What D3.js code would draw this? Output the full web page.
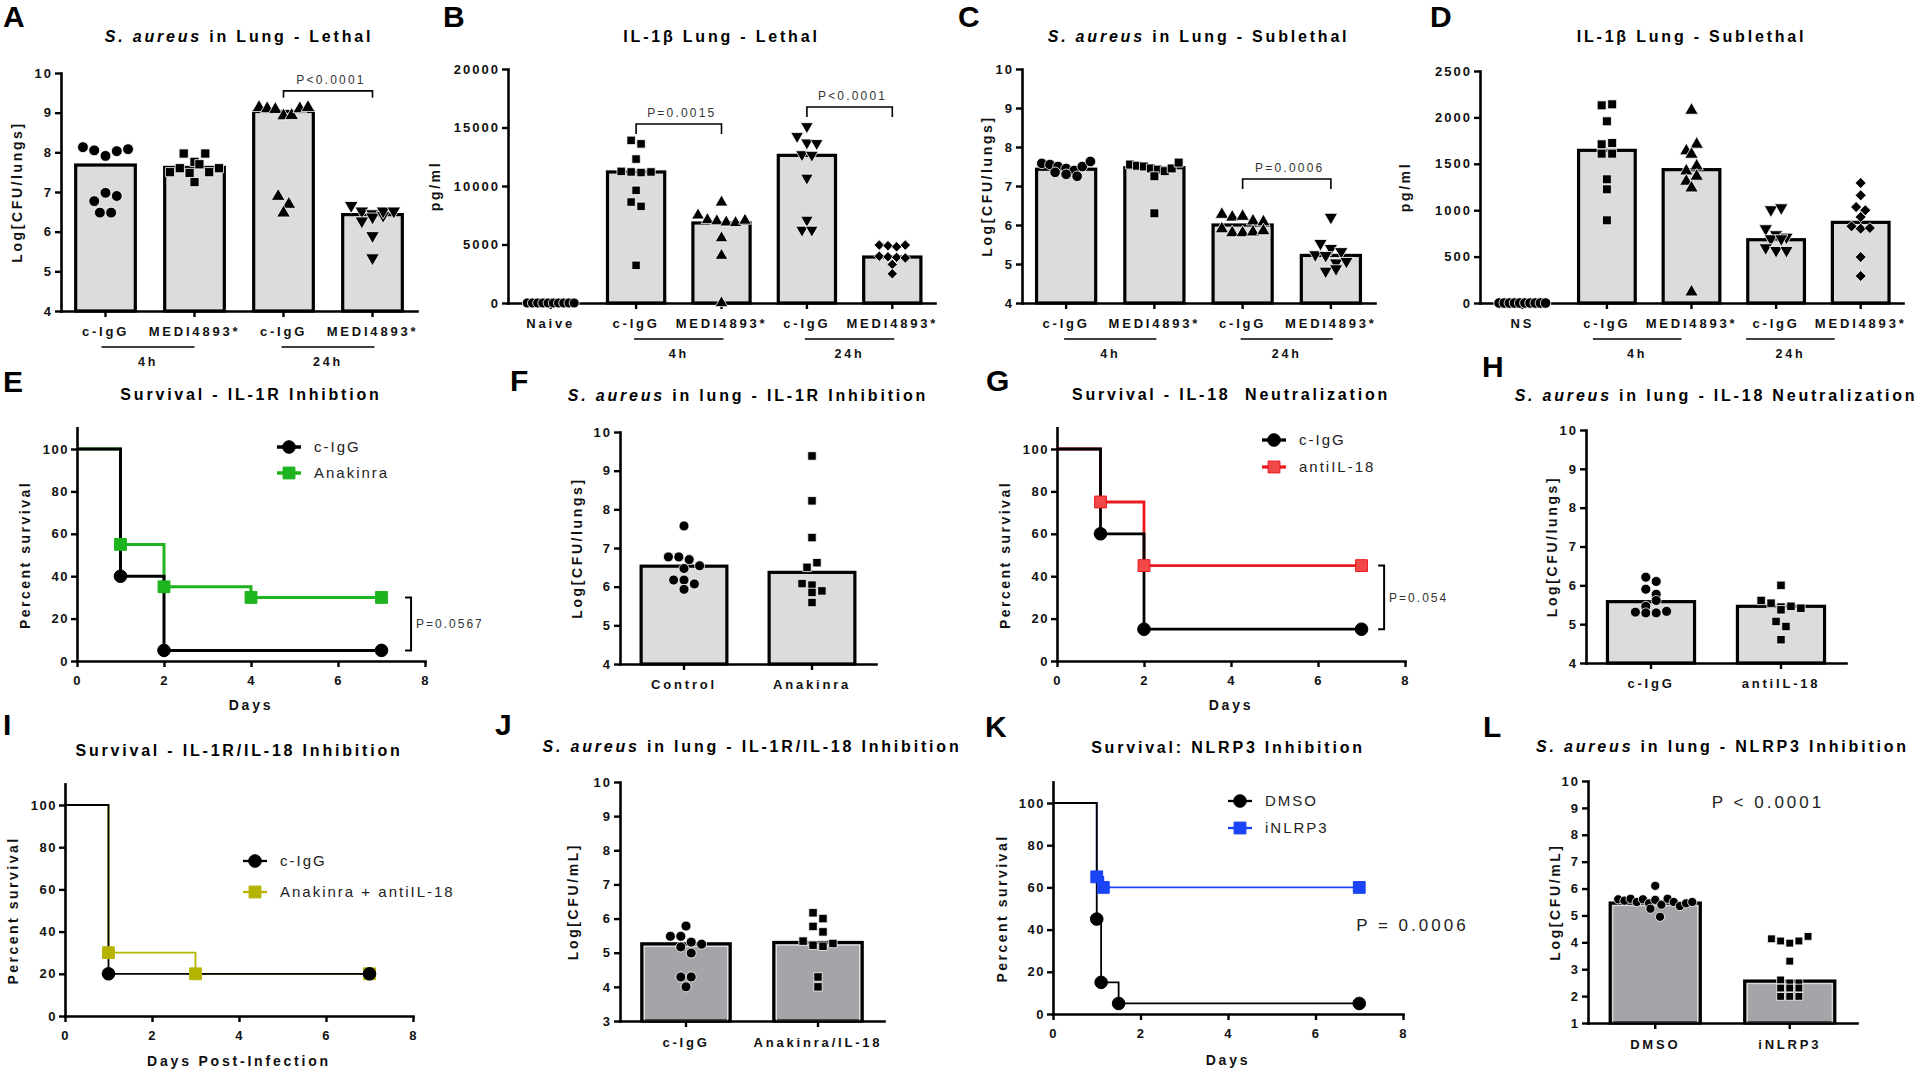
<!DOCTYPE html>
<html>
<head>
<meta charset="utf-8">
<script src="https://cdn.jsdelivr.net/npm/d3@7"></script>
<style>
  body { margin:0; background:#fff; }
  svg text { font-family: "Liberation Sans", Arial, sans-serif; white-space: pre; }
</style>
</head>
<body>
<svg id="fig" width="1920" height="1070"></svg>
<script>
// ---------- data ----------
// A: S. aureus in lung, lethal
const aCats = ["c-IgG", "MEDI4893*", "c-IgG", "MEDI4893*"];
const aBars = [7.68, 7.62, 9.03, 6.43];
const aPoints = [
  [8.13, 8.05, 7.91, 8.03, 8.08, 6.77, 6.98, 6.9, 6.48, 6.48],
  [7.97, 7.76, 7.5, 7.25, 7.6, 7.48, 7.7, 7.5, 7.97, 7.6],
  [9.13, 9.1, 9.08, 8.92, 8.93, 9.1, 9.13, 6.89, 6.69, 6.47],
  [6.66, 6.52, 6.45, 6.27, 6.37, 6.41, 6.52, 6.52, 5.9, 5.34]
];
// B: IL-1b lung, lethal
const bCats = ["Naive", "c-IgG", "MEDI4893*", "c-IgG", "MEDI4893*"];
const bBars = [0, 11200, 6840, 12620, 3930];
const bPoints = [
  [0, 0, 0, 0, 0, 0, 0, 0, 0, 0],
  [13900, 13600, 12300, 11250, 11200, 11150, 11200, 9630, 8630, 8260, 3220],
  [8600, 7500, 7100, 7000, 6900, 6850, 7050, 5550, 4050, 0],
  [15100, 14250, 13700, 13650, 12700, 12650, 10700, 7100, 6250, 6250],
  [4950, 4900, 4800, 4950, 4000, 3950, 3900, 3300, 2500, 3850]
];
// C: S. aureus in lung, sublethal
const cCats = ["c-IgG", "MEDI4893*", "c-IgG", "MEDI4893*"];
const cBars = [7.43, 7.47, 6.0, 5.22];
const cPoints = [
  [7.58, 7.55, 7.5, 7.45, 7.4, 7.35, 7.3, 7.25, 7.5, 7.63],
  [7.55, 7.52, 7.5, 7.45, 7.42, 7.38, 7.45, 7.25, 7.6, 6.3],
  [6.27, 6.2, 6.22, 6.1, 6.08, 5.9, 5.8, 5.8, 5.82, 5.85],
  [6.2, 5.53, 5.4, 5.32, 5.24, 5.22, 5.03, 4.82, 4.88, 5.07]
];
// D: IL-1b lung, sublethal
const dCats = ["NS", "c-IgG", "MEDI4893*", "c-IgG", "MEDI4893*"];
const dBars = [0, 1645, 1437, 682, 869];
const dPoints = [
  [0, 0, 0, 0, 0, 0, 0, 0, 0, 0],
  [2130, 2141, 1958, 1710, 1724, 1609, 1609, 1333, 1225, 891],
  [2076, 1638, 1710, 1602, 1422, 1476, 1311, 1365, 1239, 118],
  [1006, 1027, 801, 737, 693, 711, 693, 596, 567, 567],
  [1293, 1160, 1034, 999, 927, 826, 801, 808, 496, 291]
];
// F: IL-1R inhibition CFU
const fCats = ["Control", "Anakinra"];
const fBars = [6.53, 6.37];
const fPoints = [
  [7.57, 6.77, 6.77, 6.7, 6.54, 6.47, 6.17, 6.17, 6.07, 5.93],
  [9.38, 8.22, 7.27, 6.5, 6.62, 6.08, 6.04, 5.89, 5.85, 5.59]
];
// H: IL-18 neutralization CFU
const hCats = ["c-IgG", "antiIL-18"];
const hBars = [5.58, 5.46];
const hPoints = [
  [6.21, 5.9, 6.1, 5.77, 5.46, 5.61, 5.31, 5.29, 5.29, 5.33],
  [6.0, 5.61, 5.54, 5.44, 5.37, 5.46, 5.41, 5.07, 4.94, 4.6]
];
// J: IL-1R/IL-18 inhibition CFU
const jCats = ["c-IgG", "Anakinra/IL-18"];
const jBars = [5.26, 5.3];
const jPoints = [
  [5.78, 5.48, 5.48, 5.31, 5.25, 5.17, 4.99, 4.29, 4.29, 4.0],
  [6.17, 6.0, 5.77, 5.61, 5.34, 5.22, 5.19, 5.27, 4.29, 4.0]
];
// L: NLRP3 inhibition CFU
const lCats = ["DMSO", "iNLRP3"];
const lBars = [5.46, 2.56];
const lPoints = [
  [5.6, 5.55, 5.62, 5.5, 5.6, 5.45, 5.58, 5.4, 5.62, 5.5, 5.35, 5.45, 5.25, 5.5, 6.1, 4.95],
  [4.13, 4.05, 3.97, 4.05, 4.22, 3.3, 2.6, 2.49, 2.49, 2.3, 2.3, 2.3, 1.99, 1.99, 1.99]
];
// survival curves (day, percent)
const eCtrlT = [0, 1, 2, 7],      eCtrlS = [100, 40, 5, 5];
const eAnakT = [0, 1, 2, 4, 7],   eAnakS = [100, 55, 35, 30, 30];
const gCtrlT = [0, 1, 2, 7],      gCtrlS = [100, 60, 15, 15];
const gAntiT = [0, 1, 2, 7],      gAntiS = [100, 75, 45, 45];
const iCtrlT = [0, 1, 7],         iCtrlS = [100, 20, 20];
const iComboT = [0, 1, 3, 7],     iComboS = [100, 30, 20, 20];
const kDmsoT = [0, 1, 1.1, 1.5, 7], kDmsoS = [100, 45, 15, 5, 5];
const kInhT = [0, 1, 1.15, 7],    kInhS = [100, 65, 60, 60];

const cfuTicks = [4, 5, 6, 7, 8, 9, 10];

// ---------- helpers ----------
const svg = d3.select("#fig");
svg.append("rect").attr("width", 1920).attr("height", 1070).attr("fill", "#fff");

function addText(g, x, y, s, o = {}) {
  const t = g.append("text").attr("x", x).attr("y", y)
    .attr("font-size", o.size || 13)
    .attr("font-weight", o.weight || "bold")
    .attr("letter-spacing", o.ls === undefined ? 2 : o.ls)
    .attr("text-anchor", o.anchor || "middle")
    .attr("fill", o.fill || "#111");
  if (o.rotate) t.attr("transform", `rotate(-90 ${x} ${y})`);
  if (o.dy) t.attr("dy", o.dy);
  if (Array.isArray(s)) s.forEach(p => t.append("tspan").attr("font-style", p[1] ? "italic" : "normal").text(p[0]));
  else t.text(s);
  return t;
}

const SYM = { circle: d3.symbolCircle, square: d3.symbolSquare, tri: d3.symbolTriangle, itri: d3.symbolTriangle, diamond: d3.symbolSquare };
const SIZE = { circle: 92, square: 84, tri: 82, itri: 82, diamond: 64 };
const ROT = { itri: 180, diamond: 45 };
function marker(shape, size) { return d3.symbol().type(SYM[shape]).size(size)(); }

// graphpad-like scatter: rows of overlapping points spread sideways
function layoutRow(vals, y, cx, diam, maxW) {
  const items = vals.map((v, i) => ({ v, i, py: y(v) }));
  const sorted = items.slice().sort((a, b) => a.py - b.py);
  const rows = [];
  sorted.forEach(it => {
    const r = rows[rows.length - 1];
    if (r && it.py - r[0].py < diam * 0.9) r.push(it); else rows.push([it]);
  });
  rows.forEach(r => {
    r.sort((a, b) => a.i - b.i);
    const n = r.length;
    const sp = n > 1 ? Math.min(diam * 1.05, maxW / (n - 1)) : 0;
    r.forEach((it, k) => it.px = cx + (k - (n - 1) / 2) * sp);
  });
  return items;
}

function styleAxis(a, size, ls) {
  a.select(".domain").attr("stroke", "#000").attr("stroke-width", 2.6).attr("stroke-linecap", "square");
  a.selectAll(".tick line").attr("stroke", "#000").attr("stroke-width", 2.4);
  a.selectAll(".tick text").attr("font-family", '"Liberation Sans", Arial, sans-serif')
    .attr("font-size", size || 13).attr("font-weight", "bold").attr("letter-spacing", ls || 2).attr("fill", "#111");
}

function panelLetter(x, y, s) { addText(svg, x, y, s, { size: 30, ls: 0, anchor: "start", fill: "#000" }); }

function barPanel(c) {
  const g = svg.append("g");
  const x = d3.scaleBand().domain(d3.range(c.cats.length)).range([c.x0, c.x1]);
  const y = d3.scaleLinear().domain(c.domain).range([c.yBot, c.yTop]);
  const step = x.bandwidth(), bw = step * 0.67, base = c.domain[0];
  const mid = i => x(i) + step / 2;

  const bars = c.bars.map((v, i) => ({ v, i })).filter(d => d.v > base);
  g.selectAll("rect.bar").data(bars).join("rect")
    .attr("x", d => mid(d.i) - bw / 2).attr("width", bw)
    .attr("y", d => y(d.v)).attr("height", d => y(base) - y(d.v))
    .attr("fill", c.fill || "#dcdcdc").attr("stroke", "#000").attr("stroke-width", 3.2);
  if (c.inner) {
    g.selectAll("rect.inner").data(bars).join("rect")
      .attr("x", d => mid(d.i) - bw / 2 + 2.6).attr("width", bw - 5.2)
      .attr("y", d => y(d.v) + 2.6).attr("height", d => y(base) - y(d.v) - 2.6)
      .attr("fill", "none").attr("stroke", "#e6e6e6").attr("stroke-width", 1);
  }

  const ya = g.append("g").attr("transform", `translate(${c.x0},0)`)
    .call(d3.axisLeft(y).tickValues(c.ticks).tickFormat(d3.format("d")).tickSize(6).tickSizeOuter(0));
  styleAxis(ya, 13, 2);
  ya.selectAll(".tick text").attr("x", -8);
  const xa = g.append("g").attr("transform", `translate(0,${c.yBot})`)
    .call(d3.axisBottom(x).tickFormat(i => c.cats[i]).tickSize(6).tickSizeOuter(0));
  styleAxis(xa, 13, 2.8);
  xa.selectAll(".tick text").attr("y", c.labDy || 16);

  c.points.forEach((vals, i) => {
    const shape = c.shapes[i];
    const sz = SIZE[shape] * (c.ms || 1);
    const diam = Math.sqrt(sz) * 1.12;
    const pts = layoutRow(vals, y, mid(i), diam, step * 0.55);
    g.append("g").selectAll("path").data(pts).join("path")
      .attr("d", marker(shape, sz))
      .attr("transform", d => `translate(${d.px},${d.py}) rotate(${ROT[shape] || 0})`)
      .attr("fill", "#000").attr("stroke", "#fff").attr("stroke-width", 0.8);
  });

  addText(g, (c.x0 + c.x1) / 2, c.titleY, c.title, { size: 16, ls: 2.8, fill: "#000" });
  addText(g, c.ylabX, (c.yTop + c.yBot) / 2, c.ylabel, { size: 14, ls: 2.6, rotate: true, dy: "0.35em" });

  (c.groups || []).forEach(gr => {
    const xa0 = mid(gr.a) + (gr.shift || 0) - 2, xb = mid(gr.b) + (gr.shift || 0) + 2;
    g.append("line").attr("x1", xa0).attr("x2", xb).attr("y1", c.yBot + 36).attr("y2", c.yBot + 36)
      .attr("stroke", "#000").attr("stroke-width", 1.6);
    addText(g, (xa0 + xb) / 2, c.yBot + 55, gr.label, { size: 12.5, ls: 2.8 });
  });

  (c.brackets || []).forEach(b => {
    const yy = y(b.v), xa0 = mid(b.a), xb = mid(b.b);
    g.append("path").attr("d", `M${xa0},${yy + b.drop}V${yy}H${xb}V${yy + b.drop}`)
      .attr("fill", "none").attr("stroke", "#000").attr("stroke-width", 1.6);
    addText(g, (xa0 + xb) / 2 + 3, yy - 7, b.label, { size: 12, weight: "normal", ls: 2.2, fill: "#333" });
  });
  if (c.pText) addText(g, c.pText.x, y(c.pText.v), c.pText.label, { size: 17, weight: "normal", ls: 3, fill: "#222" });
}

function survPanel(c) {
  const g = svg.append("g");
  const x = d3.scaleLinear().domain([0, 8]).range([c.x0, c.x1]);
  const y = d3.scaleLinear().domain([0, 110]).range([c.y0, c.y0 - 1.1 * (c.y0 - c.y100)]);
  const line = d3.line().x(d => x(d[0])).y(d => y(d[1])).curve(d3.curveStepAfter);

  const ya = g.append("g").attr("transform", `translate(${c.x0},0)`)
    .call(d3.axisLeft(y).tickValues([0, 20, 40, 60, 80, 100]).tickSize(6).tickSizeOuter(0));
  styleAxis(ya, 13, 1.5);
  ya.selectAll(".tick text").attr("x", -8);
  const xa = g.append("g").attr("transform", `translate(0,${c.y0})`)
    .call(d3.axisBottom(x).tickValues([0, 2, 4, 6, 8]).tickSize(6).tickSizeOuter(0));
  styleAxis(xa, 13, 1.5);
  xa.selectAll(".tick text").attr("y", 15);

  const ser = c.series.slice().reverse();
  ser.forEach(s => g.append("path").attr("d", line(d3.zip(s.t, s.s)))
    .attr("fill", "none").attr("stroke", s.color).attr("stroke-width", c.lw));
  ser.forEach(s => {
    const pts = d3.zip(s.t, s.s).slice(1);
    g.append("g").selectAll("path").data(pts).join("path")
      .attr("d", marker(s.shape, s.shape === "circle" ? 125 : 140))
      .attr("transform", d => `translate(${x(d[0])},${y(d[1])})`)
      .attr("fill", s.fill || s.color).attr("stroke", s.color).attr("stroke-width", 1);
  });

  c.series.forEach((s, i) => {
    const ly = c.leg.y + i * c.leg.dy;
    g.append("line").attr("x1", c.leg.x).attr("x2", c.leg.x + 24).attr("y1", ly).attr("y2", ly)
      .attr("stroke", s.color).attr("stroke-width", c.lw + 0.5);
    g.append("path").attr("d", marker(s.shape, s.shape === "circle" ? 125 : 140))
      .attr("transform", `translate(${c.leg.x + 12},${ly})`)
      .attr("fill", s.fill || s.color).attr("stroke", s.color);
    addText(g, c.leg.x + 37, ly, s.name, { size: 15, weight: "normal", ls: 2, anchor: "start", dy: "0.36em", fill: "#222" });
  });

  addText(g, (c.x0 + c.x1) / 2, c.titleY, c.title, { size: 16, ls: 2.8, fill: "#000" });
  addText(g, (c.x0 + c.x1) / 2, c.xlabY, c.xlabel, { size: 14, ls: 2.8 });
  addText(g, c.ylabX, (c.y0 + c.y100) / 2, "Percent survival", { size: 14, ls: 2.5, rotate: true, dy: "0.35em" });

  if (c.bracket) {
    const b = c.bracket, bx = x(b.x);
    g.append("path").attr("d", `M${bx - 6},${y(b.a)}H${bx}V${y(b.b)}H${bx - 6}`)
      .attr("fill", "none").attr("stroke", "#000").attr("stroke-width", 2);
    addText(g, bx + 5, (y(b.a) + y(b.b)) / 2, b.label, { size: 12, weight: "normal", ls: 2, anchor: "start", dy: "0.35em", fill: "#333" });
  }
  if (c.pText) addText(g, x(c.pText.x), y(c.pText.v), c.pText.label, { size: 17, weight: "normal", ls: 3, anchor: "start", dy: "0.35em", fill: "#222" });
}

// ---------- panels ----------
barPanel({ cats: aCats, bars: aBars, points: aPoints, shapes: ["circle", "square", "tri", "itri"],
  domain: [4, 10], ticks: cfuTicks, x0: 61, x1: 417, yTop: 73, yBot: 311, ms: 1,
  title: [["S. aureus", 1], [" in Lung - Lethal", 0]], titleY: 42, ylabel: "Log[CFU/lungs]", ylabX: 17,
  groups: [{ a: 0, b: 1, label: "4h", shift: -2 }, { a: 2, b: 3, label: "24h" }],
  brackets: [{ a: 2, b: 3, v: 9.55, drop: 7, label: "P<0.0001" }] });

barPanel({ cats: bCats, bars: bBars, points: bPoints, shapes: ["circle", "square", "tri", "itri", "diamond"],
  domain: [0, 20000], ticks: [0, 5000, 10000, 15000, 20000], x0: 508, x1: 935, yTop: 69, yBot: 303, ms: 0.85,
  title: "IL-1β Lung - Lethal", titleY: 42, ylabel: "pg/ml", ylabX: 435,
  groups: [{ a: 1, b: 2, label: "4h" }, { a: 3, b: 4, label: "24h" }],
  brackets: [{ a: 1, b: 2, v: 15300, drop: 10, label: "P=0.0015" }, { a: 3, b: 4, v: 16750, drop: 10, label: "P<0.0001" }] });

barPanel({ cats: cCats, bars: cBars, points: cPoints, shapes: ["circle", "square", "tri", "itri"],
  domain: [4, 10], ticks: cfuTicks, x0: 1022, x1: 1375, yTop: 69, yBot: 303, ms: 0.95,
  title: [["S. aureus", 1], [" in Lung - Sublethal", 0]], titleY: 42, ylabel: "Log[CFU/lungs]", ylabX: 987,
  groups: [{ a: 0, b: 1, label: "4h" }, { a: 2, b: 3, label: "24h" }],
  brackets: [{ a: 2, b: 3, v: 7.18, drop: 10, label: "P=0.0006" }] });

barPanel({ cats: dCats, bars: dBars, points: dPoints, shapes: ["circle", "square", "tri", "itri", "diamond"],
  domain: [0, 2500], ticks: [0, 500, 1000, 1500, 2000, 2500], x0: 1480, x1: 1903, yTop: 71, yBot: 303, ms: 0.95,
  title: "IL-1β Lung - Sublethal", titleY: 42, ylabel: "pg/ml", ylabX: 1405,
  groups: [{ a: 1, b: 2, label: "4h", shift: -12 }, { a: 3, b: 4, label: "24h", shift: -28 }] });

barPanel({ cats: fCats, bars: fBars, points: fPoints, shapes: ["circle", "square"],
  domain: [4, 10], ticks: cfuTicks, x0: 620, x1: 876, yTop: 432, yBot: 664, ms: 0.85,
  title: [["S. aureus", 1], [" in lung - IL-1R Inhibition", 0]], titleY: 401, ylabel: "Log[CFU/lungs]", ylabX: 577 });

barPanel({ cats: hCats, bars: hBars, points: hPoints, shapes: ["circle", "square"],
  domain: [4, 10], ticks: cfuTicks, x0: 1586, x1: 1846, yTop: 430, yBot: 663, ms: 0.85,
  title: [["S. aureus", 1], [" in lung - IL-18 Neutralization", 0]], titleY: 401, ylabel: "Log[CFU/lungs]", ylabX: 1552 });

barPanel({ cats: jCats, bars: jBars, points: jPoints, shapes: ["circle", "square"],
  domain: [3, 10], ticks: [3, 4, 5, 6, 7, 8, 9, 10], x0: 620, x1: 884, yTop: 782, yBot: 1021, ms: 0.85,
  fill: "#a5a5a9", inner: true, labDy: 17,
  title: [["S. aureus", 1], [" in lung - IL-1R/IL-18 Inhibition", 0]], titleY: 752, ylabel: "Log[CFU/mL]", ylabX: 573 });

barPanel({ cats: lCats, bars: lBars, points: lPoints, shapes: ["circle", "square"],
  domain: [1, 10], ticks: [1, 2, 3, 4, 5, 6, 7, 8, 9, 10], x0: 1588, x1: 1857, yTop: 781, yBot: 1023, ms: 0.72,
  fill: "#a5a5a9", inner: true, labDy: 17,
  title: [["S. aureus", 1], [" in lung - NLRP3 Inhibition", 0]], titleY: 752, ylabel: "Log[CFU/mL]", ylabX: 1555,
  pText: { x: 1768, v: 9.0, label: "P < 0.0001" } });

survPanel({ x0: 77, x1: 425, y0: 661, y100: 449, lw: 3,
  series: [{ name: "c-IgG", t: eCtrlT, s: eCtrlS, color: "#000", shape: "circle" },
           { name: "Anakinra", t: eAnakT, s: eAnakS, color: "#1eb41e", shape: "square" }],
  leg: { x: 277, y: 447, dy: 26 }, title: "Survival - IL-1R Inhibtion", titleY: 400,
  xlabel: "Days", xlabY: 710, ylabX: 25, bracket: { x: 7.68, a: 30, b: 5, label: "P=0.0567" } });

survPanel({ x0: 1057, x1: 1405, y0: 661, y100: 449, lw: 2.8,
  series: [{ name: "c-IgG", t: gCtrlT, s: gCtrlS, color: "#000", shape: "circle" },
           { name: "antiIL-18", t: gAntiT, s: gAntiS, color: "#e8191f", fill: "#f24848", shape: "square" }],
  leg: { x: 1262, y: 440, dy: 27 }, title: "Survival - IL-18  Neutralization", titleY: 400,
  xlabel: "Days", xlabY: 710, ylabX: 1005, bracket: { x: 7.52, a: 45, b: 15, label: "P=0.054" } });

survPanel({ x0: 65, x1: 413, y0: 1016, y100: 805, lw: 1.8,
  series: [{ name: "c-IgG", t: iCtrlT, s: iCtrlS, color: "#000", shape: "circle" },
           { name: "Anakinra + antiIL-18", t: iComboT, s: iComboS, color: "#b4b400", shape: "square" }],
  leg: { x: 243, y: 861, dy: 31 }, title: "Survival - IL-1R/IL-18 Inhibition", titleY: 756,
  xlabel: "Days Post-Infection", xlabY: 1066, ylabX: 13 });

survPanel({ x0: 1053, x1: 1403, y0: 1014, y100: 803, lw: 1.8,
  series: [{ name: "DMSO", t: kDmsoT, s: kDmsoS, color: "#000", shape: "circle" },
           { name: "iNLRP3", t: kInhT, s: kInhS, color: "#1a44f5", shape: "square" }],
  leg: { x: 1228, y: 801, dy: 27 }, title: "Survival: NLRP3 Inhibition", titleY: 753,
  xlabel: "Days", xlabY: 1065, ylabX: 1002, pText: { x: 6.93, v: 42, label: "P = 0.0006" } });

// panel letters
[["A", 3, 27], ["B", 443, 27], ["C", 958, 27], ["D", 1430, 27],
 ["E", 3, 392], ["F", 510, 391], ["G", 986, 391], ["H", 1482, 377],
 ["I", 3, 735], ["J", 495, 735], ["K", 985, 737], ["L", 1483, 737]].forEach(d => panelLetter(d[1], d[2], d[0]));
</script>
</body>
</html>
